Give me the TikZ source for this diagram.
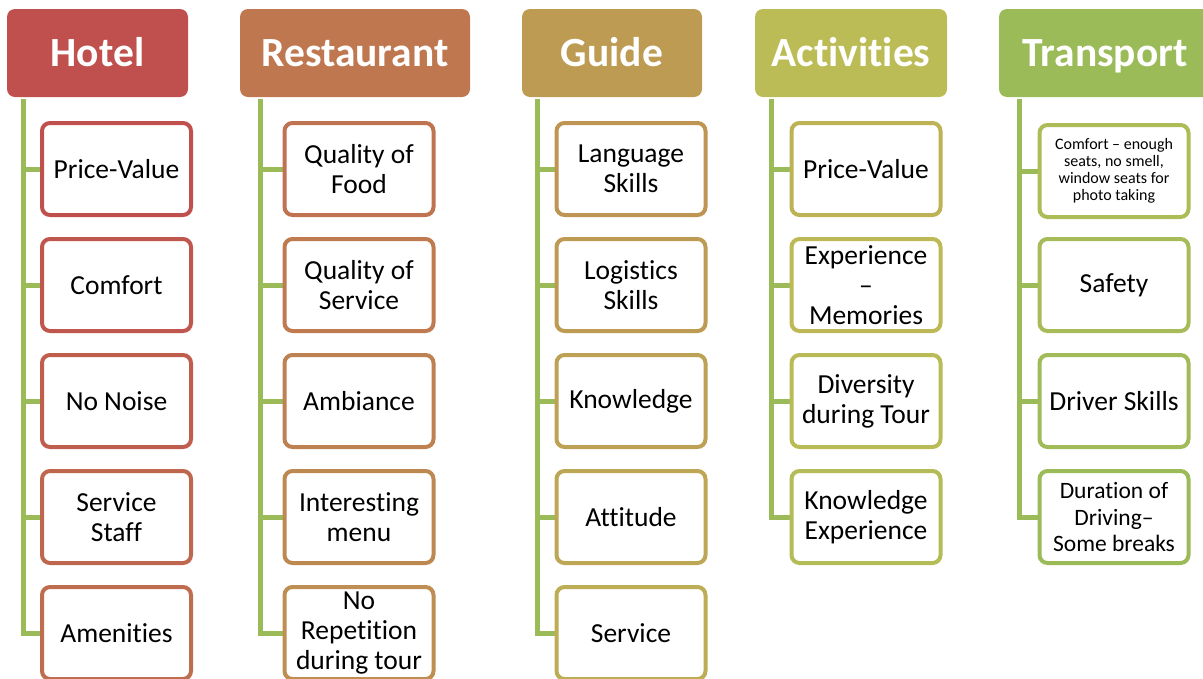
\documentclass[tikz,border=0pt]{standalone}
\usepackage{fontspec}
\setmainfont{Carlito}[Ligatures=NoCommon]
\usetikzlibrary{backgrounds}
\newcommand\mkcol[2]{%
  \pgfmathsetmacro\myh{0.0043+#2*0.2167}%
  \pgfmathsetmacro\mys{0.599-#2*0.075}%
  \pgfmathsetmacro\myb{0.753-#2*0.02}%
  \edef\myspec{\myh,\mys,\myb}%
  \convertcolorspec{hsb}{\myspec}{rgb}\myrgb
  \edef\mytmp{\noexpand\xglobal\noexpand\definecolor{#1}{rgb}{\myrgb}}\mytmp}
\foreach \k in {0,...,22}{\pgfmathsetmacro\myt{\k/22}\mkcol{c\k}{\myt}}
\mkcol{hd0}{0}\mkcol{hd1}{0.25}\mkcol{hd2}{0.5}\mkcol{hd3}{0.75}\mkcol{hd4}{1}
\definecolor{lineg}{RGB}{155,187,89}
\tikzset{
  hdr/.style={rounded corners=8pt, minimum height=88pt, inner sep=0pt, text=white,
    text height=27pt, text depth=0pt, font=\fontsize{41.5}{45}\selectfont\bfseries},
  item/.style={draw, fill=white, line width=4pt, rounded corners=8pt, minimum width=149pt,
    minimum height=92pt, inner sep=0pt, align=center, text=black,
    font=\fontsize{27.5}{30}\selectfont},
  conn/.style={draw=lineg, line width=5pt, line join=miter},
}
\begin{document}
\begin{tikzpicture}[x=1pt,y=-1pt]
\useasboundingbox (0,0) rectangle (1203,678);
\clip (0,0) rectangle (1203,678);
% headers
\node[hdr, fill=hd0, minimum width=181pt] (hotel) at (97.5,53) {Hotel};
\node[hdr, fill=hd1, minimum width=230pt] (rest) at (355,53) {Restaurant};
\node[hdr, fill=hd2, minimum width=180pt] (guide) at (612,53) {Guide};
\node[hdr, fill=hd3, minimum width=192pt] (act) at (851,53) {Activities};
\node[hdr, fill=hd4, minimum width=212pt] (trans) at (1105,53) {Transport};
% Hotel
\node[item, draw=c0] (h1) at (116.5,169) {Price-Value};
\node[item, draw=c1] (h2) at (116.5,285) {Comfort};
\node[item, draw=c2] (h3) at (116.5,401) {No Noise};
\node[item, draw=c3] (h4) at (116.5,517) {Service\\Staff};
\node[item, draw=c4] (h5) at (116.5,633) {Amenities};
% Restaurant
\node[item, draw=c5] (r1) at (359,169) {Quality of\\Food};
\node[item, draw=c6] (r2) at (359,285) {Quality of\\Service};
\node[item, draw=c7] (r3) at (359,401) {Ambiance};
\node[item, draw=c8] (r4) at (359,517) {Interesting\\menu};
\node[item, draw=c9] (r5) at (359,633) {No\\Repetition\\during tour};
% Guide
\node[item, draw=c10] (g1) at (631,169) {Language\\Skills};
\node[item, draw=c11] (g2) at (631,285) {Logistics\\Skills};
\node[item, draw=c12] (g3) at (631,401) {Knowledge};
\node[item, draw=c13] (g4) at (631,517) {Attitude};
\node[item, draw=c14] (g5) at (631,633) {Service};
% Activities
\node[item, draw=c15] (a1) at (866,169) {Price-Value};
\node[item, draw=c16] (a2) at (866,285) {Experience\\--\\Memories};
\node[item, draw=c17] (a3) at (866,401) {Diversity\\during Tour};
\node[item, draw=c18] (a4) at (866,517) {Knowledge\\Experience};
% Transport
\node[item, draw=c19, font=\fontsize{16}{17}\selectfont] (t1) at (1114,171) {Comfort -- enough\\seats, no smell,\\window seats for\\photo taking};
\node[item, draw=c20] (t2) at (1114,285) {Safety};
\node[item, draw=c21] (t3) at (1114,401) {Driver Skills};
\node[item, draw=c22, font=\fontsize{23.5}{26.5}\selectfont] (t4) at (1114,517) {Duration of\\Driving--\\Some breaks};
% connectors
\begin{scope}[on background layer]
  \coordinate (hl) at ([xshift=16.5pt,yshift=-2pt]hotel.south west);
  \coordinate (rl) at ([xshift=21pt,yshift=-2pt]rest.south west);
  \coordinate (gl) at ([xshift=16pt,yshift=-2pt]guide.south west);
  \coordinate (al) at ([xshift=16.5pt,yshift=-2pt]act.south west);
  \coordinate (tl) at ([xshift=20.5pt,yshift=-2pt]trans.south west);
  \draw[conn] (hl) |- (h5.west);
  \foreach \c in {h1,h2,h3,h4} \draw[conn] (hl |- \c.west) -- (\c.west);
  \draw[conn] (rl) |- (r5.west);
  \foreach \c in {r1,r2,r3,r4} \draw[conn] (rl |- \c.west) -- (\c.west);
  \draw[conn] (gl) |- (g5.west);
  \foreach \c in {g1,g2,g3,g4} \draw[conn] (gl |- \c.west) -- (\c.west);
  \draw[conn] (al) |- (a4.west);
  \foreach \c in {a1,a2,a3} \draw[conn] (al |- \c.west) -- (\c.west);
  \draw[conn] (tl) |- (t4.west);
  \foreach \c in {t1,t2,t3} \draw[conn] (tl |- \c.west) -- (\c.west);
\end{scope}
\end{tikzpicture}
\end{document}
